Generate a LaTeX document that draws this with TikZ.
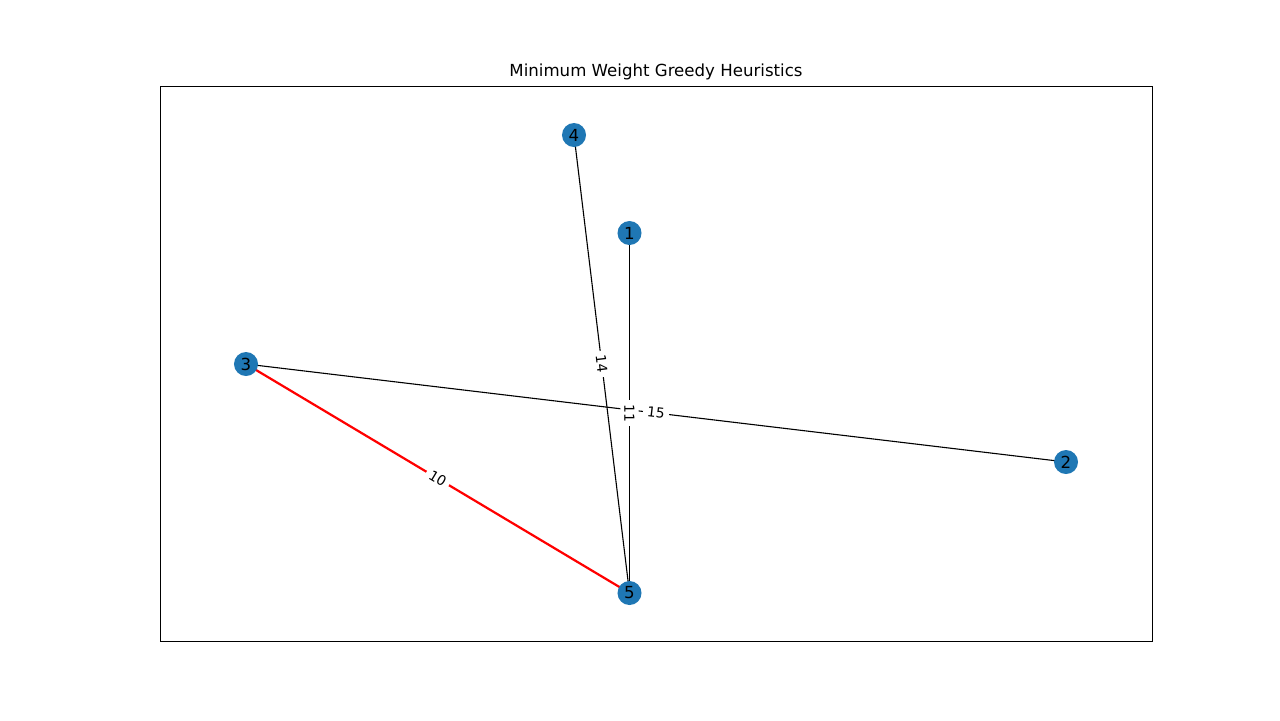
\documentclass[tikz,border=0pt]{standalone}
\usepackage{fontspec}
\setmainfont{DejaVu Sans}
\usetikzlibrary{calc}
\definecolor{nodeblue}{HTML}{1F77B4}
\begin{document}
\begin{tikzpicture}[x=0.01in,y=-0.01in,
  vert/.style={circle,fill=nodeblue,minimum size=0.24in,inner sep=0pt,font=\fontsize{12}{14}\selectfont},
  edge/.style={draw=black,line width=0.8pt},
  redge/.style={draw=red,line width=1.6pt},
  elabel/.style={fill=white,rounded corners=2.5pt,inner sep=3pt,font=\fontsize{10}{12}\selectfont}]
\useasboundingbox (0,0) rectangle (1280,720);
\draw[line width=0.6pt] (160.5,86.5) rectangle (1152.5,641.5);
\node[font=\fontsize{12}{14}\selectfont] (title) at (656,72) {Minimum Weight Greedy Heuristics};
\coordinate (p1) at (629.5,233);
\coordinate (p2) at (1066,462);
\coordinate (p3) at (246,364);
\coordinate (p4) at (574,135);
\coordinate (p5) at (629.5,593);
\draw[edge] (p1) -- (p5);
\draw[edge] (p4) -- (p5);
\draw[edge] (p3) -- (p2);
\draw[redge] (p3) -- (p5);
\node[elabel,rotate=-90] (l11) at ($(p1)!0.5!(p5)$) {11};
\node[elabel,rotate=-83.2] (l14) at ($(p4)!0.5!(p5)$) {14};
\node[elabel,rotate=-6.8] (l15) at ($(p3)!0.5!(p2)$) {15};
\node[elabel,rotate=-30.9] (l10) at ($(p3)!0.5!(p5)$) {10};
\node[vert] (n1) at (p1) {1};
\node[vert] (n2) at (p2) {2};
\node[vert] (n3) at (p3) {3};
\node[vert] (n4) at (p4) {4};
\node[vert] (n5) at (p5) {5};
\end{tikzpicture}
\end{document}
